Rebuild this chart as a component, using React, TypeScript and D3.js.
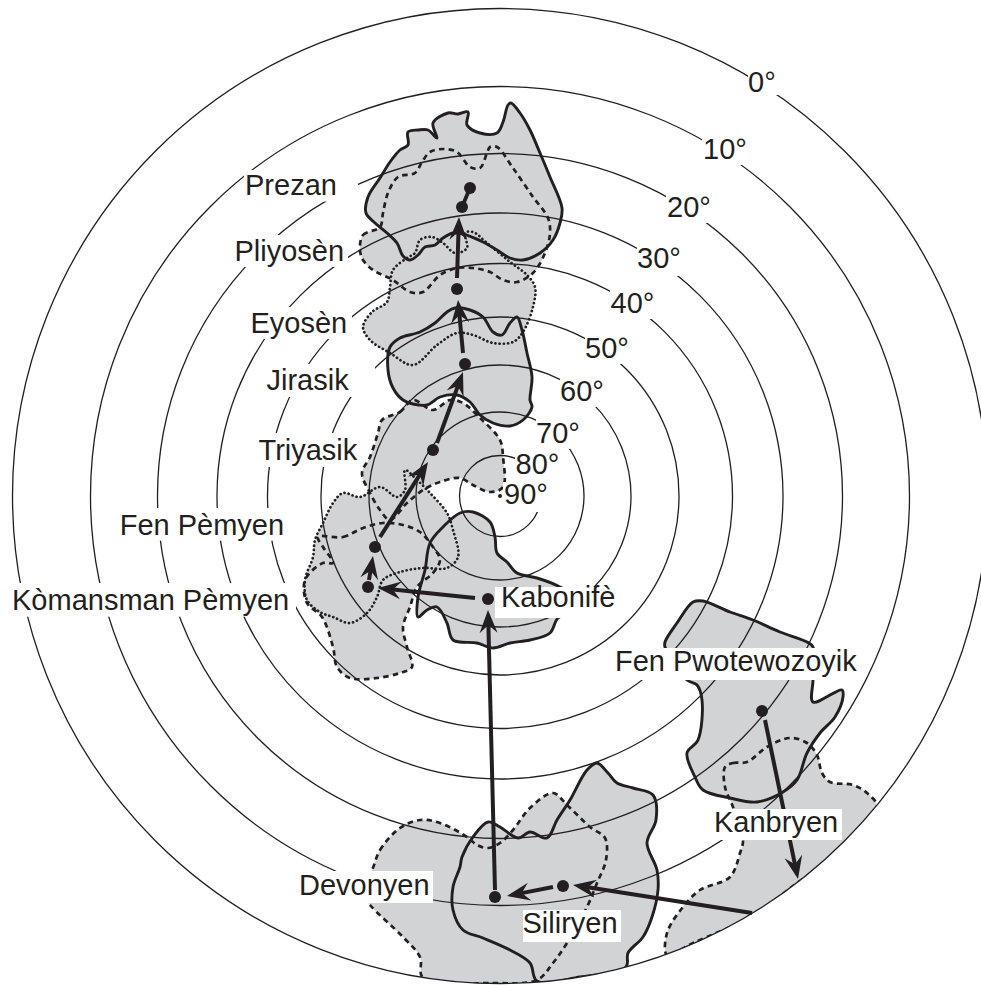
import React from "react";
import * as d3 from "d3";

type P = [number, number];

// Map units: offset from the pole (east, north).
const latitudes = [80, 70, 60, 50, 40, 30, 20, 10, 0];
const latitudeRadii = [40.5, 84, 131, 179, 232.5, 283, 342.5, 409.5, 487.5];

const prezan: P[] = [[11,393],[20,383],[30,366],[40,343],[50,319],[62,288],[60,273],[53,256],[40,243],[23,236],[10,238],[-3,246],[-17,254],[-37,262],[-47,263],[-57,258],[-65,251],[-75,249],[-82,241],[-90,236],[-97,240],[-103,253],[-113,263],[-125,273],[-134,283],[-132,299],[-120,318],[-110,334],[-100,346],[-92,351],[-92,364],[-82,366],[-72,366],[-63,358],[-67,373],[-52,383],[-42,382],[-32,384],[-33,371],[-20,363],[-3,363],[3,374],[8,391]];
const pliyosen: P[] = [[-140,246],[-137,261],[-120,269],[-117,283],[-112,303],[-102,319],[-85,323],[-78,334],[-70,344],[-57,347],[-43,344],[-30,329],[-20,328],[-13,343],[-10,349],[-3,349],[13,328],[33,299],[48,278],[50,263],[45,243],[33,223],[17,214],[3,216],[-10,224],[-27,228],[-43,228],[-60,221],[-77,204],[-90,204],[-107,216],[-127,226],[-137,236]];
const eyosen: P[] = [[-107,226],[-93,238],[-85,243],[-80,256],[-68,259],[-57,253],[-45,243],[-33,248],[-35,263],[-27,264],[-13,253],[10,234],[27,221],[35,209],[33,189],[23,164],[13,154],[-7,153],[-27,161],[-43,163],[-63,151],[-87,131],[-110,143],[-130,156],[-137,169],[-128,184],[-113,194],[-110,209]];
const jirasik: P[] = [[-45,188],[-30,186],[-17,179],[-7,164],[2,161],[10,173],[17,179],[22,166],[27,143],[32,119],[30,96],[32,89],[23,76],[10,70],[-7,73],[-20,81],[-30,94],[-43,101],[-60,99],[-73,91],[-87,92],[-97,96],[-107,108],[-112,126],[-110,149],[-100,158],[-80,164],[-65,173],[-53,184]];
const triyasik: P[] = [[-118,76],[-100,84],[-87,96],[-67,86],[-50,96],[-37,93],[-20,78],[0,56],[3,39],[3,9],[-10,4],[-27,11],[-40,18],[-60,14],[-77,6],[-93,-7],[-110,-24],[-120,-14],[-130,3],[-138,23],[-130,39],[-122,63]];
const komansmanPemyen: P[] = [[-95,26],[-83,16],[-70,3],[-53,-17],[-47,-34],[-42,-61],[-53,-72],[-77,-72],[-100,-76],[-117,-84],[-123,-101],[-133,-117],[-150,-127],[-167,-121],[-180,-116],[-193,-104],[-195,-84],[-187,-61],[-185,-44],[-177,-27],[-167,-7],[-157,3],[-140,-1],[-120,9],[-103,-1],[-95,6]];
const fenPemyen: P[] = [[-182,-41],[-157,-41],[-137,-32],[-117,-27],[-97,-29],[-80,-36],[-67,-51],[-60,-64],[-67,-77],[-83,-91],[-90,-111],[-97,-131],[-93,-151],[-88,-171],[-100,-177],[-123,-182],[-150,-182],[-163,-171],[-167,-151],[-178,-121],[-193,-107],[-195,-84],[-177,-67],[-167,-67],[-177,-51]];
const kabonife: P[] = [[-82,-121],[-82,-101],[-75,-74],[-70,-47],[-57,-31],[-40,-17],[-27,-16],[-10,-26],[-5,-41],[-3,-57],[7,-66],[17,-77],[37,-82],[58,-90],[70,-98],[70,-118],[58,-122],[50,-137],[30,-144],[10,-147],[-7,-152],[-23,-147],[-47,-144],[-53,-127],[-63,-111],[-73,-114]];
const devonyen: P[] = [[-128,-374],[-120,-354],[-100,-332],[-80,-324],[-60,-327],[-33,-341],[-23,-349],[-12,-352],[0,-347],[13,-334],[30,-312],[53,-297],[67,-309],[90,-331],[105,-342],[106,-364],[97,-387],[87,-411],[67,-447],[53,-467],[37,-484],[-7,-487],[-77,-482],[-80,-461],[-97,-441],[-130,-409],[-140,-394]];
const siliryen: P[] = [[97,-267],[108,-277],[117,-287],[133,-292],[153,-299],[156,-324],[147,-347],[157,-374],[158,-394],[152,-421],[143,-441],[128,-457],[126,-471],[80,-481],[37,-485],[30,-467],[10,-454],[-17,-442],[-37,-434],[-47,-414],[-47,-391],[-40,-371],[-38,-361],[-27,-341],[-12,-326],[0,-331],[18,-342],[30,-336],[47,-342],[57,-324],[70,-304],[87,-274]];
const fenPwotewozoyik: P[] = [[165,-151],[165,-146],[177,-127],[193,-106],[203,-105],[230,-116],[253,-124],[280,-136],[307,-146],[313,-151],[313,-184],[313,-206],[342,-194],[343,-201],[335,-221],[320,-237],[307,-257],[297,-284],[283,-296],[257,-306],[230,-302],[203,-294],[195,-281],[187,-257],[198,-244],[202,-204],[197,-189],[187,-184]];
const kanbryen: P[] = [[225,-271],[233,-267],[247,-266],[267,-251],[290,-242],[307,-247],[317,-259],[322,-277],[330,-286],[353,-289],[367,-297],[377,-311],[337,-357],[297,-387],[250,-421],[193,-447],[167,-459],[167,-437],[183,-411],[200,-394],[230,-381],[240,-357],[243,-344],[233,-311],[225,-291]];

const regions: { pts: P[]; kind: string }[] = [
  { pts: kanbryen, kind: "dash" },
  { pts: fenPwotewozoyik, kind: "solid" },
  { pts: devonyen, kind: "dash" },
  { pts: siliryen, kind: "solid" },
  { pts: kabonife, kind: "solid" },
  { pts: fenPemyen, kind: "dash" },
  { pts: komansmanPemyen, kind: "dot" },
  { pts: triyasik, kind: "dash" },
  { pts: jirasik, kind: "solid" },
  { pts: eyosen, kind: "dot" },
  { pts: pliyosen, kind: "dash" },
  { pts: prezan, kind: "solid" },
];

const dots: P[] = [[-30,308],[-38,289],[-43,207],[-35,132],[-67,46],[-125,-51],[-132,-91],[-12,-103],[-5,-401],[63,-390],[262,-215]];
const arrows: [P, P][] = [
  [[265,-224],[298,-383]],
  [[252,-417],[73,-389]],
  [[53,-391],[7,-400]],
  [[-5,-394],[-12,-114]],
  [[-25,-102],[-122,-92]],
  [[-131,-84],[-127,-60]],
  [[-120,-41],[-72,34]],
  [[-63,53],[-37,124]],
  [[-37,143],[-42,196]],
  [[-43,218],[-41,279]],
];
const connector: [P, P] = [[-38,289],[-30,308]];

const labelNames = ["0°","10°","20°","30°","40°","50°","60°","70°","80°","90°","Prezan","Pliyosèn","Eyosèn","Jirasik","Triyasik","Fen Pèmyen","Kòmansman Pèmyen","Kabonifè","Fen Pwotewozoyik","Kanbryen","Devonyen","Siliryen"];
const labelAnchors: P[] = [[248,404],[203,337],[167,279],[137,228],[110.5,183],[85,138],[60,95],[36,53],[15.5,22],[4,-8],[-255,301],[-265.5,235.3],[-249.5,163.3],[-233.5,106],[-241.5,36],[-380.3,-39],[-488,-114],[1,-110.7],[115,-174.5],[214,-335.7],[-201,-399],[22.5,-437.3]];
// Boxes [x0, y0, x1, y1] in map units that knock the graticule and outlines out behind each label.
const labelBoxes: [number, number, number, number][] = [
  [248,426,281,401],[202,360,246,331],[166,302,208,273],[137,251,180,220],[110,206,152,177],[85,161,125,132],[60,118,100,89],[36,79,78,47],[15,44,58,14],[3,14,48,-16],
  [-256,326,-142,294.5],[-267,261,-152,229],[-251,189,-148,157],[-236,132,-125,99],[-244,63,-138,29],[-382,-12,-210,-44.7],[-490,-87,-204,-120.7],[-5,-91,118,-122],[113,-152,362,-184],[216,-313,342,-344],[-205,-375,-67,-407],[23,-414,121,-446],
];

const x = d3.scaleLinear().domain([-500, 481]).range([0, 981]);
const y = d3.scaleLinear().domain([496, -489]).range([0, 985]);
const radius = d3.scaleLinear().domain(latitudes).range(latitudeRadii);

const closedPath = d3.line<P>().x((d) => x(d[0])).y((d) => y(d[1])).curve(d3.curveCatmullRomClosed.alpha(0.5));

const GRAY = "#d1d3d4";
const INK = "#231f20";

function head(from: P, to: P) {
  const [x0, y0, x1, y1] = [x(from[0]), y(from[1]), x(to[0]), y(to[1])];
  const a = Math.atan2(y1 - y0, x1 - x0);
  const pt = (back: number, side: number) =>
    [x1 - back * Math.cos(a) - side * Math.sin(a), y1 - back * Math.sin(a) + side * Math.cos(a)];
  const neck = pt(15, 0);
  const path = d3.path();
  path.moveTo(x1, y1);
  const l = pt(23, 9), r = pt(23, -9);
  path.lineTo(l[0], l[1]);
  path.lineTo(neck[0], neck[1]);
  path.lineTo(r[0], r[1]);
  path.closePath();
  return { d: path.toString(), neck };
}

const strokeStyle: Record<string, any> = {
  solid: { strokeWidth: 2.9 },
  dash: { strokeWidth: 2.7, strokeDasharray: "5.5 4.2" },
  dot: { strokeWidth: 2.7, strokeDasharray: "0.1 4.1", strokeLinecap: "round" },
};

export default function App() {
  return (
    <svg width={981} height={985} viewBox="0 0 981 985" style={{ position: "absolute", left: 0, top: 0, background: "#fff" }}>
      <defs>
        <clipPath id="world">
          <circle cx={x(0)} cy={y(0)} r={radius(0)} />
        </clipPath>
      </defs>
      <g clipPath="url(#world)">
        {regions.map((r, i) => (
          <path key={i} d={closedPath(r.pts) as string} fill={GRAY} stroke="none" />
        ))}
      </g>
      {latitudes.map((lat) => (
        <circle key={lat} cx={x(0)} cy={y(0)} r={radius(lat)} fill="none" stroke={INK} strokeWidth={1.3} />
      ))}
      <g clipPath="url(#world)">
        {regions.map((r, i) => (
          <path key={i} d={closedPath(r.pts) as string} fill="none" stroke={INK} strokeLinejoin="round" {...strokeStyle[r.kind]} />
        ))}
      </g>
      {arrows.map(([from, to], i) => {
        const h = head(from, to);
        return (
          <g key={i}>
            <line x1={x(from[0])} y1={y(from[1])} x2={h.neck[0]} y2={h.neck[1]} stroke={INK} strokeWidth={4} />
            <path d={h.d} fill={INK} />
          </g>
        );
      })}
      <line x1={x(connector[0][0])} y1={y(connector[0][1])} x2={x(connector[1][0])} y2={y(connector[1][1])} stroke={INK} strokeWidth={3.8} />
      {labelBoxes.map((b, i) => (
        <rect key={i} x={x(b[0])} y={y(b[1])} width={x(b[2]) - x(b[0])} height={y(b[3]) - y(b[1])} fill="#fff" />
      ))}
      {dots.map((d, i) => (
        <circle key={i} cx={x(d[0])} cy={y(d[1])} r={6} fill={INK} />
      ))}
      <circle cx={x(0)} cy={y(0)} r={2} fill={INK} />
      {labelNames.map((t, i) => (
        <text key={t} x={x(labelAnchors[i][0])} y={y(labelAnchors[i][1])} fontFamily="'Liberation Sans', Arial, sans-serif" fontSize={29} fill={INK}>
          {t}
        </text>
      ))}
    </svg>
  );
}
